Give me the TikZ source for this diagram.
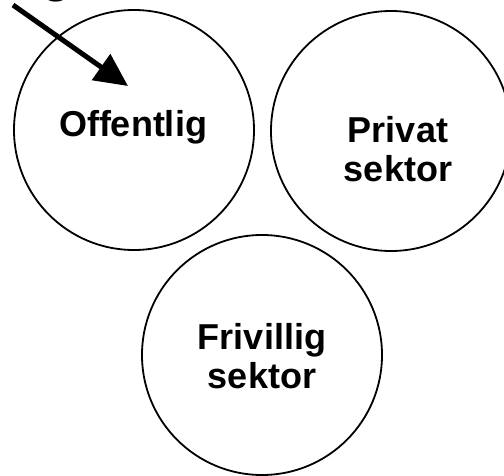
\documentclass[tikz,border=0pt]{standalone}
\usepackage{fontspec}
\setmainfont{Liberation Sans}
\usetikzlibrary{arrows.meta}
\tikzset{
  sector/.style={circle, draw=black, line width=1.8pt, minimum size=240pt, inner sep=0pt},
  label text/.style={font=\bfseries\fontsize{36}{39}\selectfont, align=center, inner sep=0pt},
  pointer/.style={line width=5pt, -{Triangle[length=33pt,width=31pt]}}
}
\begin{document}
\begin{tikzpicture}[x=1pt,y=-1pt]
\clip (0,0) rectangle (504,476);
\node[sector] (off) at (134,130) {};
\node[sector] (priv) at (391,131) {};
\node[sector] (friv) at (262,355) {};
\node[label text, anchor=base] (offt) at (133,137) {Offentlig};
\node[label text] (privt) at (398,149) {Privat\\sektor};
\node[label text] (frivt) at (262,356) {Frivillig\\sektor};
\node[font=\bfseries\fontsize{50}{50}\selectfont, inner sep=0pt, anchor=south] (gtop) at (57,2) {g};
\coordinate (a1) at (13,5);
\coordinate (a2) at (128,86);
\draw[pointer] (a1) -- (a2);
\end{tikzpicture}
\end{document}
